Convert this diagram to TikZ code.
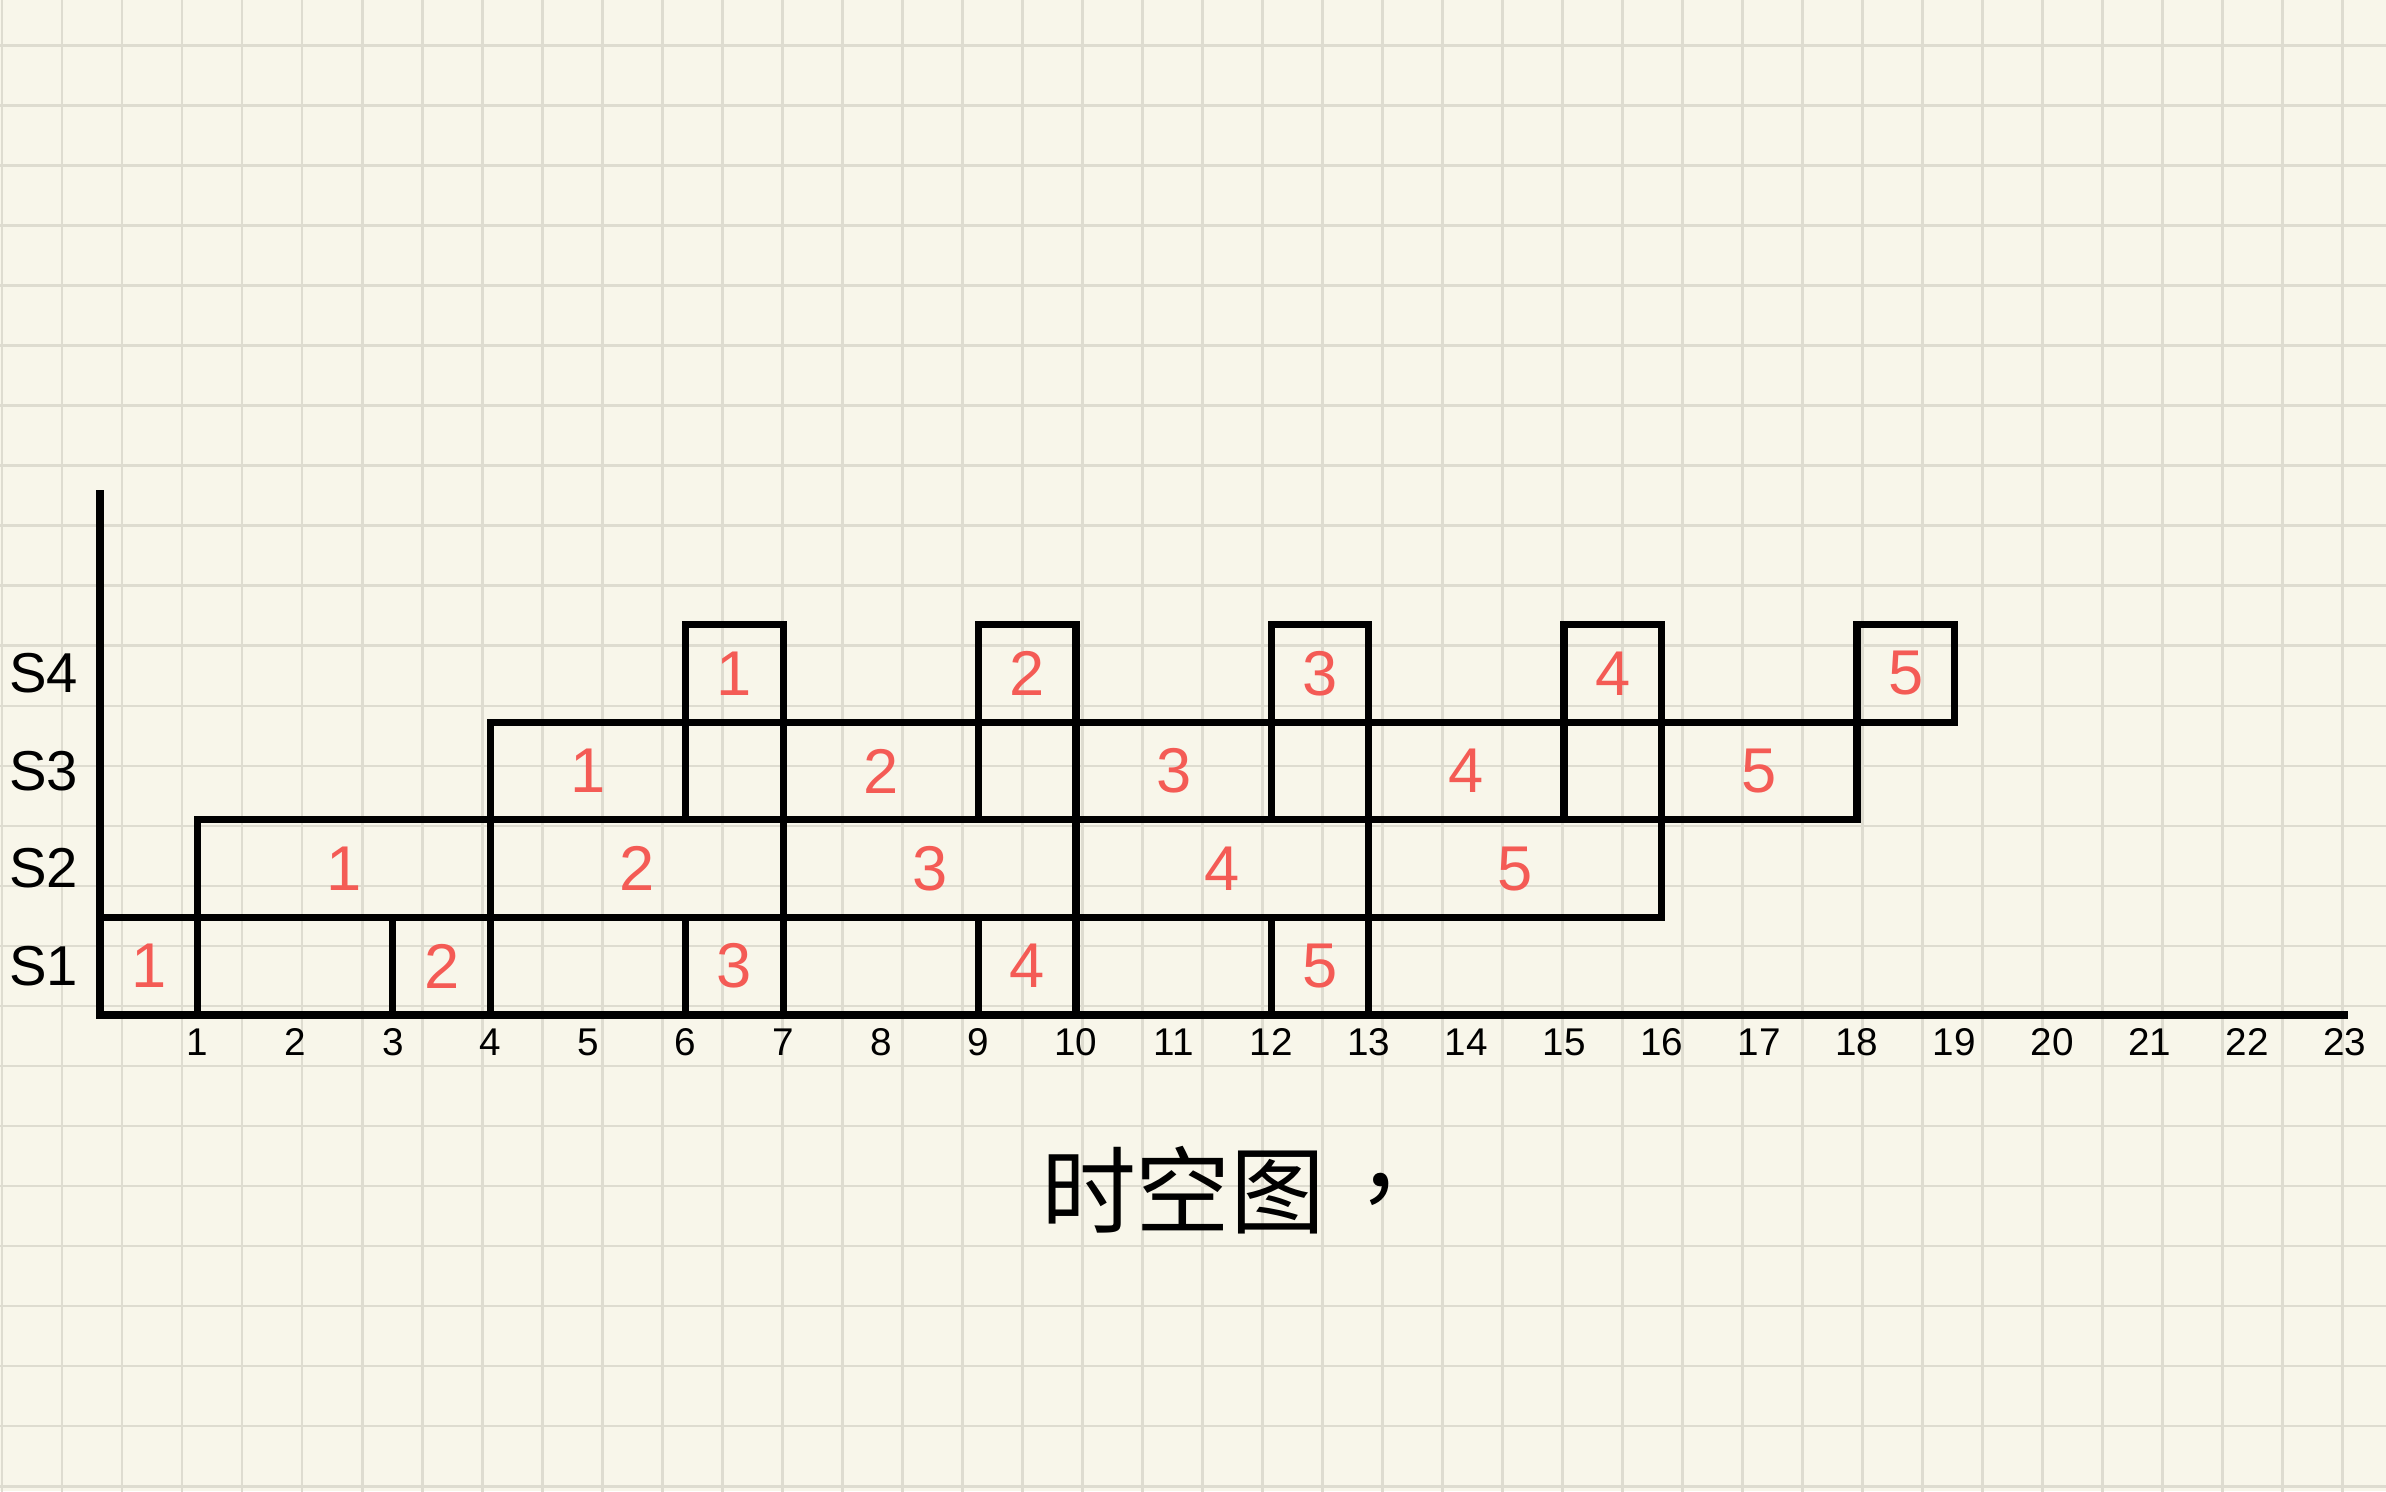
\documentclass[tikz,border=0pt]{standalone}
\usepackage{fontspec}
\setmainfont{Liberation Sans}
\newfontfamily\cjkfont{Noto Sans CJK SC}
\usepackage{tikz}
\usetikzlibrary{positioning}
\definecolor{PaperBg}{RGB}{248,246,234}
\definecolor{PaperGrid}{RGB}{222,220,208}
\definecolor{TaskRed}{RGB}{244,91,85}

\begin{document}
\begin{tikzpicture}[
    stagebox/.style={rectangle, draw=black, line width=2.1pt, inner sep=0pt, minimum height=0.976cm, text=TaskRed, font=\fontsize{18}{20}\selectfont},
    w1/.style={minimum width=0.976cm},
    w2/.style={minimum width=1.952cm},
    w3/.style={minimum width=2.928cm},
    ticklbl/.style={font=\fontsize{11}{12}\selectfont, inner sep=1pt},
    rowlbl/.style={font=\fontsize{16}{18}\selectfont},
    titletext/.style={font=\cjkfont\fontsize{27}{30}\selectfont, inner sep=0pt},
    axisline/.style={line width=2pt}
]
\useasboundingbox (0,0) rectangle (23.86,14.91);

% paper
\fill[PaperBg] (0,0) rectangle (23.86,14.91);
\begin{scope}
\clip (0,0) rectangle (23.86,14.91);
\draw[PaperGrid, line width=0.85pt, shift={(0.02,0.05)}, step=0.6] (-0.6,-0.6) grid (24.6,15.6);
\end{scope}

\begin{scope}[shift={(1.00,4.76)}, x=0.976cm, y=0.976cm]

% axes
\coordinate (origin) at (0,0);
\coordinate (xend) at (23.03,0);
\coordinate (yend) at (0,5.38);
\draw[axisline] (xend) -- (origin) -- (yend);

% S1
\node[stagebox, w1] (s1t1) at (0.5,0.5) {1};
\node[stagebox, w1] (s1t2) at (3.5,0.5) {2};
\node[stagebox, w1] (s1t3) at (6.5,0.5) {3};
\node[stagebox, w1] (s1t4) at (9.5,0.5) {4};
\node[stagebox, w1] (s1t5) at (12.5,0.5) {5};

% S2
\node[stagebox, w3] (s2t1) at (2.5,1.5) {1};
\node[stagebox, w3] (s2t2) at (5.5,1.5) {2};
\node[stagebox, w3] (s2t3) at (8.5,1.5) {3};
\node[stagebox, w3] (s2t4) at (11.5,1.5) {4};
\node[stagebox, w3] (s2t5) at (14.5,1.5) {5};

% S3
\node[stagebox, w2] (s3t1) at (5,2.5) {1};
\node[stagebox, w2] (s3t2) at (8,2.5) {2};
\node[stagebox, w2] (s3t3) at (11,2.5) {3};
\node[stagebox, w2] (s3t4) at (14,2.5) {4};
\node[stagebox, w2] (s3t5) at (17,2.5) {5};

% S4
\node[stagebox, w1] (s4t1) at (6.5,3.5) {1};
\node[stagebox, w1] (s4t2) at (9.5,3.5) {2};
\node[stagebox, w1] (s4t3) at (12.5,3.5) {3};
\node[stagebox, w1] (s4t4) at (15.5,3.5) {4};
\node[stagebox, w1] (s4t5) at (18.5,3.5) {5};

% stage labels
\node[rowlbl] (lblS1) at (-0.58,0.5) {S1};
\node[rowlbl] (lblS2) at (-0.58,1.5) {S2};
\node[rowlbl] (lblS3) at (-0.58,2.5) {S3};
\node[rowlbl] (lblS4) at (-0.58,3.5) {S4};

% time ticks
\foreach \t in {1,...,23}
    \node[ticklbl] (tick\t) at (\t,-0.28) {\t};

% title
\node[titletext] (title) at (11.1,-1.79) {时空图};
\node[titletext, right=0.3cm of title] (titlecomma) {，};

\end{scope}
\end{tikzpicture}
\end{document}
